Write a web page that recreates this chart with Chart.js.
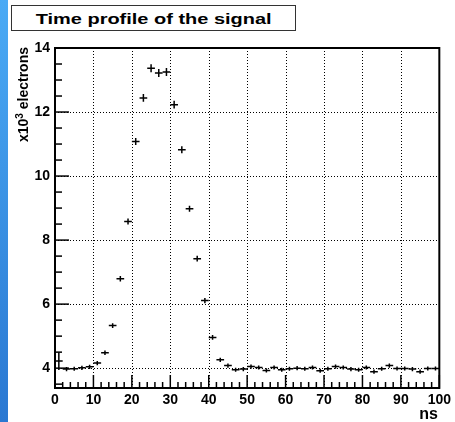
<!DOCTYPE html>
<html><head><meta charset="utf-8">
<script src="https://cdn.jsdelivr.net/npm/chart.js@4"></script>
<style>
html,body{margin:0;padding:0;background:#fff;}
#wrap{position:relative;width:455px;height:422px;overflow:hidden;background:#fff;}
#strip{position:absolute;left:0;top:0;width:8px;height:422px;background:linear-gradient(#4aaaf5,#2a78d2);}
#c{position:absolute;left:0;top:0;}
#title{position:absolute;left:11px;top:5px;width:285px;height:26px;box-sizing:border-box;border:1.5px solid #333;background:#fff;display:flex;align-items:center;justify-content:center;}
#titleText{display:inline-block;white-space:nowrap;font:bold 15px "Liberation Sans",Arial,sans-serif;color:#000;transform-origin:50% 50%;}
#ytitle{position:absolute;left:15px;top:167px;width:120px;height:15px;line-height:15px;text-align:right;white-space:nowrap;transform-origin:0 0;transform:rotate(-90deg);font:bold 14px "Liberation Sans",Arial,sans-serif;color:#000;}
#ytitle sup{font-size:10px;line-height:0;vertical-align:5px;}
#xtitle{position:absolute;right:17px;top:406px;font:bold 16px/16px "Liberation Sans",Arial,sans-serif;color:#000;}
</style>
</head><body>
<div id="wrap">
<canvas id="c" width="455" height="422"></canvas>
<div id="strip"></div>
<div id="title"><span id="titleText">Time profile of the signal</span></div>
<div id="ytitle">x10<sup>3</sup> electrons</div>
<div id="xtitle">ns</div>
</div>
<script>
// ---- data (time in ns, signal in x10^3 electrons) ----
const binCenters = [1,3,5,7,9,11,13,15,17,19,21,23,25,27,29,31,33,35,37,39,41,43,45,47,49,51,53,55,57,59,61,63,65,67,69,71,73,75,77,79,81,83,85,87,89,91,93,95,97,99];
const signal = [4.22,3.97,3.98,4.01,4.04,4.16,4.48,5.33,6.79,8.58,11.08,12.44,13.37,13.22,13.25,12.23,10.82,8.98,7.42,6.11,4.96,4.26,4.08,3.95,3.97,4.05,4.02,3.93,4.02,3.95,3.98,4.00,3.98,4.02,3.92,3.98,4.05,4.02,3.97,3.95,4.02,3.89,3.98,4.08,3.99,3.99,3.97,3.89,3.99,3.99];
const signalErr = [0.28,0.065,0.065,0.065,0.065,0.066,0.07,0.075,0.085,0.095,0.11,0.12,0.125,0.125,0.125,0.12,0.11,0.095,0.088,0.08,0.072,0.066,0.065,0.065,0.065,0.065,0.065,0.065,0.065,0.065,0.065,0.065,0.065,0.065,0.065,0.065,0.065,0.065,0.065,0.065,0.065,0.065,0.065,0.065,0.065,0.065,0.065,0.065,0.065,0.065];
const binHalfWidth = 1;
const xTickValues = [0,10,20,30,40,50,60,70,80,90,100];
const yTickValues = [4,6,8,10,12,14];

const FONT = '"Liberation Sans", Arial, sans-serif';

// fit title text width
(function(){
  const t = document.getElementById('titleText');
  const w = t.getBoundingClientRect().width;
  t.style.transform = 'scaleX(' + (236 / w) + ')';
})();

const rootPlugin = {
  id: 'rootStyle',
  beforeDatasetsDraw(chart) {
    const {ctx, chartArea: a, scales: {x, y}} = chart;
    ctx.save();
    ctx.strokeStyle = '#000';
    ctx.lineWidth = 1;
    ctx.setLineDash([1, 2]);
    xTickValues.forEach(v => {
      const px = Math.round(x.getPixelForValue(v)) + 0.5;
      if (px <= a.left + 1 || px >= a.right - 1) return;
      ctx.beginPath(); ctx.moveTo(px, a.top); ctx.lineTo(px, a.bottom); ctx.stroke();
    });
    yTickValues.forEach(v => {
      const py = Math.round(y.getPixelForValue(v)) + 0.5;
      if (py <= a.top + 1 || py >= a.bottom - 1) return;
      ctx.beginPath(); ctx.moveTo(a.left, py); ctx.lineTo(a.right, py); ctx.stroke();
    });
    ctx.restore();
  },
  afterDatasetsDraw(chart) {
    const {ctx, chartArea: a, scales: {x, y}} = chart;
    ctx.save();
    // error-bar crosses
    ctx.strokeStyle = '#000';
    ctx.lineWidth = 1.5;
    ctx.setLineDash([]);
    const ds = chart.data.datasets[0].data;
    ds.forEach(p => {
      const cx = x.getPixelForValue(p.x);
      const cy = y.getPixelForValue(p.y);
      const x0 = x.getPixelForValue(p.x - binHalfWidth);
      const x1 = x.getPixelForValue(p.x + binHalfWidth);
      const y0 = y.getPixelForValue(p.y - p.e);
      const y1 = y.getPixelForValue(p.y + p.e);
      ctx.beginPath();
      ctx.moveTo(x0, cy); ctx.lineTo(x1, cy);
      ctx.moveTo(cx, Math.min(y0, a.bottom)); ctx.lineTo(cx, y1);
      ctx.stroke();
    });
    // ticks (inward)
    ctx.lineWidth = 1.5;
    for (let v = x.min; v <= x.max + 1e-9; v += 2) {
      const px = x.getPixelForValue(v);
      const major = Math.abs(v % 10) < 1e-9;
      ctx.beginPath(); ctx.moveTo(px, a.bottom); ctx.lineTo(px, a.bottom - (major ? 13 : 6)); ctx.stroke();
    }
    for (let v = 3.5; v <= y.max + 1e-9; v += 0.5) {
      const py = y.getPixelForValue(v);
      const major = Math.abs(v % 2) < 1e-9;
      ctx.beginPath(); ctx.moveTo(a.left, py); ctx.lineTo(a.left + (major ? 14 : 7), py); ctx.stroke();
    }
    // frame
    ctx.lineWidth = 2;
    ctx.strokeRect(a.left, a.top, a.right - a.left, a.bottom - a.top);
    ctx.restore();
  }
};

new Chart(document.getElementById('c').getContext('2d'), {
  type: 'scatter',
  data: {
    datasets: [{
      data: binCenters.map((t, i) => ({x: t, y: signal[i], e: signalErr[i]})),
      pointRadius: 0,
      showLine: false
    }]
  },
  options: {
    responsive: false,
    animation: false,
    devicePixelRatio: 1,
    layout: {padding: {left: 0, right: 15, top: 48, bottom: 0}},
    plugins: {legend: {display: false}, tooltip: {enabled: false}, title: {display: false}},
    scales: {
      x: {
        type: 'linear', min: 0, max: 100,
        afterBuildTicks: s => { s.ticks = xTickValues.map(v => ({value: v})); },
        afterFit: s => { s.height = 34; },
        grid: {display: false, drawTicks: false},
        border: {display: false},
        ticks: {font: {family: FONT, size: 14, weight: 'bold'}, color: '#000', padding: 4, maxRotation: 0, autoSkip: false}
      },
      y: {
        type: 'linear', min: 3.38, max: 14,
        afterBuildTicks: s => { s.ticks = yTickValues.map(v => ({value: v})); },
        afterFit: s => { s.width = 55; },
        grid: {display: false, drawTicks: false},
        border: {display: false},
        ticks: {font: {family: FONT, size: 14, weight: 'bold'}, color: '#000', padding: 5, autoSkip: false}
      }
    }
  },
  plugins: [rootPlugin]
});
</script>
</body></html>
